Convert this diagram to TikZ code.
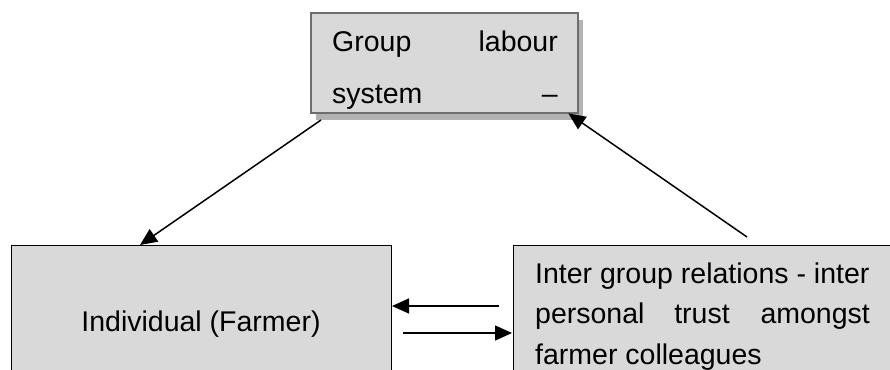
\documentclass[tikz,border=0pt]{standalone}
\usepackage{fontspec}
\setmainfont{Liberation Sans}
\usetikzlibrary{arrows.meta}
\begin{document}
\begin{tikzpicture}[x=1pt,y=-1pt,
  boxfill/.style={fill=boxgray},
  arr/.style={line width=1.5pt,-{Triangle[length=17pt,width=15pt]}},
  txt/.style={inner sep=0pt,font=\fontsize{28.5}{34}\selectfont}]
\definecolor{boxgray}{HTML}{D9D9D9}
\definecolor{shadowgray}{HTML}{B3B3B3}
\definecolor{bordergray}{HTML}{6E6E6E}
\useasboundingbox (0,0) rectangle (890,369);
\clip (0,0) rectangle (890,369);
% top box with shadow
\fill[shadowgray] (316,20) rectangle (583,120);
\node[boxfill, draw=none, inner sep=0pt, minimum width=267pt, minimum height=100pt, anchor=north west] (top) at (311,13) {};
\begin{scope}
  \clip (312,14) rectangle (577,111);
  \node[txt, anchor=base west] (t1a) at (332,52) {Group};
  \node[txt, anchor=base east] (t1b) at (558,52) {labour};
  \node[txt, anchor=base west] (t2a) at (332,103) {system};
  \node[txt, anchor=base east] (t2b) at (558,103) {–};
\end{scope}
\draw[bordergray, line width=2pt] (311,13) rectangle (578,113);
% left box
\node[boxfill, draw=black, line width=1.4pt, inner sep=0pt, minimum width=380pt, minimum height=160pt, anchor=north west] (left) at (11,245) {};
\node[txt, anchor=base] (ltxt) at (201,331) {Individual (Farmer)};
% right box
\node[boxfill, draw=black, line width=1.4pt, inner sep=0pt, minimum width=400pt, minimum height=160pt, anchor=north west] (right) at (513,245) {};
\node[txt, anchor=base west] (r1) at (535,283) {Inter group relations - inter};
\node[txt, anchor=base west] (r2a) at (535,323) {personal};
\node[txt, anchor=base] (r2b) at (702,323) {trust};
\node[txt, anchor=base east] (r2c) at (870,323) {amongst};
\node[txt, anchor=base west] (r3) at (535,364) {farmer colleagues};
% connectors
\coordinate (a1s) at (321,120);
\coordinate (a1e) at ([xshift=129pt]left.north west);
\coordinate (a2s) at (747,237);
\coordinate (a2e) at ([xshift=-10pt]top.south east);
\coordinate (a3s) at (499,306);
\coordinate (a3e) at (392,306);
\coordinate (a4s) at (403,333);
\coordinate (a4e) at (512,333);
\draw[arr] (a1s) -- (a1e);
\draw[arr] (a2s) -- (a2e);
\draw[arr] (a3s) -- (a3e);
\draw[arr] (a4s) -- (a4e);
\end{tikzpicture}
\end{document}
